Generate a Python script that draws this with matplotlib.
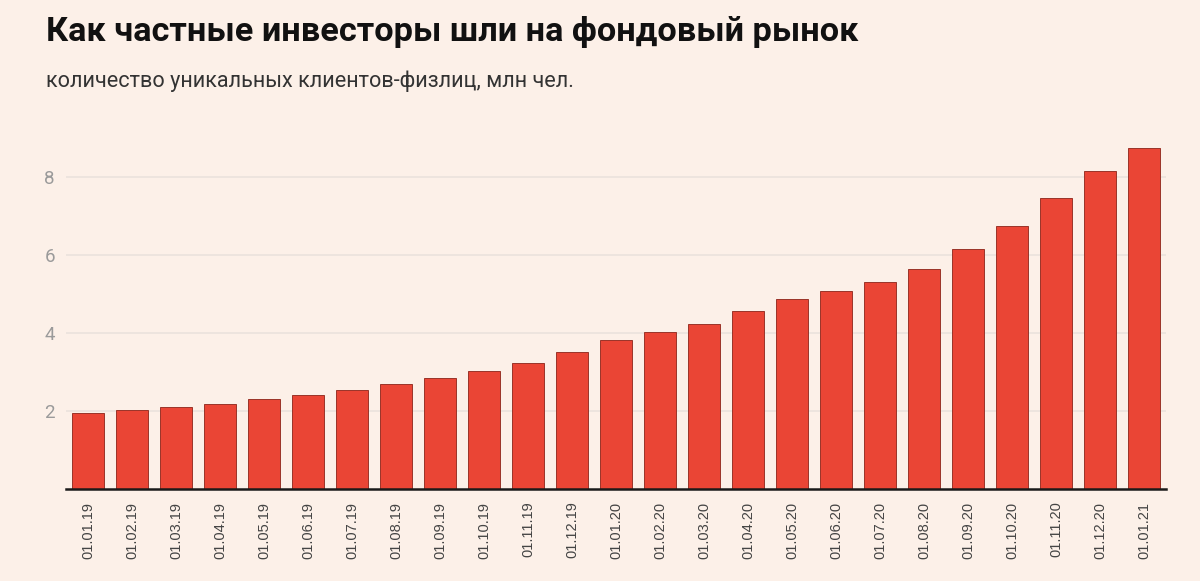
import matplotlib.pyplot as plt
import numpy as np

# data
dates = ["01.01.19", "01.02.19", "01.03.19", "01.04.19", "01.05.19", "01.06.19",
         "01.07.19", "01.08.19", "01.09.19", "01.10.19", "01.11.19", "01.12.19",
         "01.01.20", "01.02.20", "01.03.20", "01.04.20", "01.05.20", "01.06.20",
         "01.07.20", "01.08.20", "01.09.20", "01.10.20", "01.11.20", "01.12.20",
         "01.01.21"]
clients = [1.94, 2.02, 2.09, 2.18, 2.30, 2.42, 2.54, 2.70, 2.85, 3.02, 3.22, 3.50,
           3.83, 4.03, 4.22, 4.55, 4.86, 5.07, 5.31, 5.63, 6.15, 6.75, 7.47, 8.15,
           8.75]
yticks = [2, 4, 6, 8]

bg = "#fcf0e8"
bar_color = "#ea4535"

fig = plt.figure(figsize=(12, 5.81), dpi=100, facecolor=bg)
ax = fig.add_axes([0.055, 0.1583, 0.9167, 0.638], facecolor=bg)

x = np.arange(len(dates))
ax.bar(x, clients, width=0.73, color=bar_color, edgecolor="#9a3328", linewidth=0.7, zorder=3)

ax.set_xlim(-0.5, len(dates) - 0.5)
ax.set_ylim(0, 9.5)
ax.set_yticks(yticks)
ax.set_yticklabels([str(t) for t in yticks], fontsize=13.5, color="#9a9a9a", family="Roboto")
ax.grid(axis="y", color="#ebe2dc", linewidth=1.2, zorder=0)

ax.set_xticks(x)
ax.set_xticklabels(dates, rotation=90, fontsize=10.5, color="#444444", family="Liberation Sans")
ax.tick_params(axis="both", length=0)
ax.tick_params(axis="x", pad=9)
ax.tick_params(axis="y", pad=8)

for side in ["top", "right", "left"]:
    ax.spines[side].set_visible(False)
ax.spines["bottom"].set_color("#1a1a1a")
ax.spines["bottom"].set_linewidth(1.8)
ax.spines["bottom"].set_zorder(4)

fig.text(0.038, 0.945, "Как частные инвесторы шли на фондовый рынок", fontsize=24.7,
         fontweight="bold", family="Roboto", color="#111111", va="center")
fig.text(0.038, 0.86, "количество уникальных клиентов-физлиц, млн чел.", fontsize=15.6,
         family="Roboto", color="#333333", va="center")

fig.savefig("out.png", dpi=100, facecolor=bg)
